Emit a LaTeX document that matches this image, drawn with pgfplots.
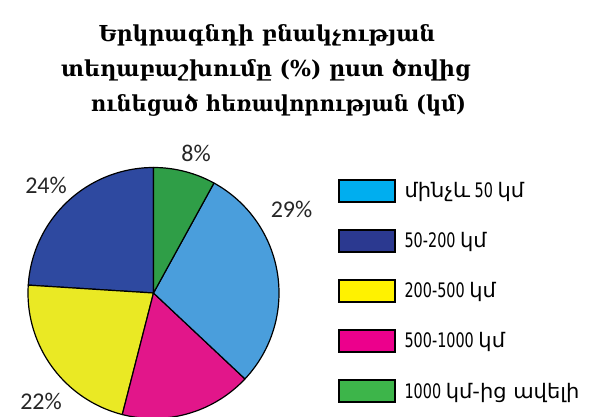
\documentclass[border=0pt]{standalone}
\usepackage{pgfplots}
\usepackage{pgfplotstable}
\pgfplotsset{compat=1.18}
\usepackage{fontspec}
\setmainfont{DejaVu Sans}
\newfontfamily\titlefont{DejaVu Serif}
\newfontfamily\titlefontn[FakeStretch=0.95]{DejaVu Serif}
\newfontfamily\numfont[FakeStretch=0.72]{DejaVu Sans}
\newfontfamily\armfont[FakeStretch=1.05]{DejaVu Sans}
\newfontfamily\pctfont{Carlito}

\definecolor{pie0}{HTML}{2E49A0}
\definecolor{pie1}{HTML}{EAE924}
\definecolor{pie2}{HTML}{E2168A}
\definecolor{pie3}{HTML}{4A9EDC}
\definecolor{pie4}{HTML}{2F9E47}
\definecolor{leg0}{HTML}{00AEEF}
\definecolor{leg1}{HTML}{2B3990}
\definecolor{leg2}{HTML}{FFF200}
\definecolor{leg3}{HTML}{EC008C}
\definecolor{leg4}{HTML}{3DB54A}

% share (%) of each slice, counter-clockwise from 12 o'clock
\pgfplotstableread{
cat value
db 24
ye 22
ma 17
lb 29
gr 8
}\piedata

\newcommand\A[1]{{\armfont #1}}

\begin{document}
\begin{tikzpicture}[x=1pt,y=1pt]
\path[use as bounding box] (0,0) rectangle (597,417);
\clip (0,0) rectangle (597,417);

% title
\node[anchor=base, font=\titlefont\bfseries\fontsize{22}{25}\selectfont, inner sep=0pt] at (267,417-41.5) {Երկրագնդի բնակչության};
\node[anchor=base, font=\titlefont\bfseries\fontsize{22}{25}\selectfont, inner sep=0pt] at (266,417-77) {տեղաբաշխումը (\%) ըստ ծովից};
\node[anchor=base, font=\titlefontn\bfseries\fontsize{22}{25}\selectfont, inner sep=0pt] at (278.5,417-112) {ունեցած հեռավորության (կմ)};

\begin{axis}[
  at={(153.5pt,124pt)}, anchor=origin,
  width=251pt, height=251pt, scale only axis,
  xmin=-1, xmax=1, ymin=-1, ymax=1,
  hide axis, clip=false,
  legend style={at={(1.235,0.954)}, anchor=north west, draw=none, fill=none,
    inner sep=0pt, outer sep=0pt, row sep=26.5pt,
    font=\numfont\fontsize{20}{22}\selectfont,
    nodes={inner sep=0pt, anchor=west},
    /tikz/every odd column/.append style={column sep=9pt}},
  legend cell align=left,
  legend image code/.code={\draw[#1, draw=black, line width=1.6pt] (0pt,-11pt) rectangle (56pt,11pt);},
]
\pgfmathsetmacro\acc{90}
\pgfplotsforeachungrouped \i in {0,...,4} {
  \pgfplotstablegetelem{\i}{value}\of\piedata
  \pgfmathsetmacro\start{\acc}
  \pgfmathsetmacro\stop{\acc+3.6*\pgfplotsretval}
  \edef\temp{\noexpand\addplot[fill=pie\i, draw=black, line width=1.2pt, line join=round, domain=\start:\stop, samples=80, variable=\noexpand\t, forget plot] ({cos(\noexpand\t)},{sin(\noexpand\t)}) -- (axis cs:0,0) -- cycle;}
  \temp
  \global\let\acc\stop
}
\addlegendimage{fill=leg0}\addlegendentry{\A{մինչև} 50 \A{կմ}}
\addlegendimage{fill=leg1}\addlegendentry{50-200 \A{կմ}}
\addlegendimage{fill=leg2}\addlegendentry{200-500 \A{կմ}}
\addlegendimage{fill=leg3}\addlegendentry{500-1000 \A{կմ}}
\addlegendimage{fill=leg4}\addlegendentry{1000 \A{կմ-ից ավելի}}
\end{axis}

% percentage labels
\node[font=\pctfont\fontsize{24}{26}\selectfont, text=black!85, anchor=base, inner sep=0pt] at (196,417-162) {8\%};
\node[font=\pctfont\fontsize{24}{26}\selectfont, text=black!85, anchor=base, inner sep=0pt] at (46,417-193.5) {24\%};
\node[font=\pctfont\fontsize{24}{26}\selectfont, text=black!85, anchor=base, inner sep=0pt] at (291.5,417-218) {29\%};
\node[font=\pctfont\fontsize{24}{26}\selectfont, text=black!85, anchor=base, inner sep=0pt] at (41,417-410) {22\%};
\end{tikzpicture}
\end{document}
